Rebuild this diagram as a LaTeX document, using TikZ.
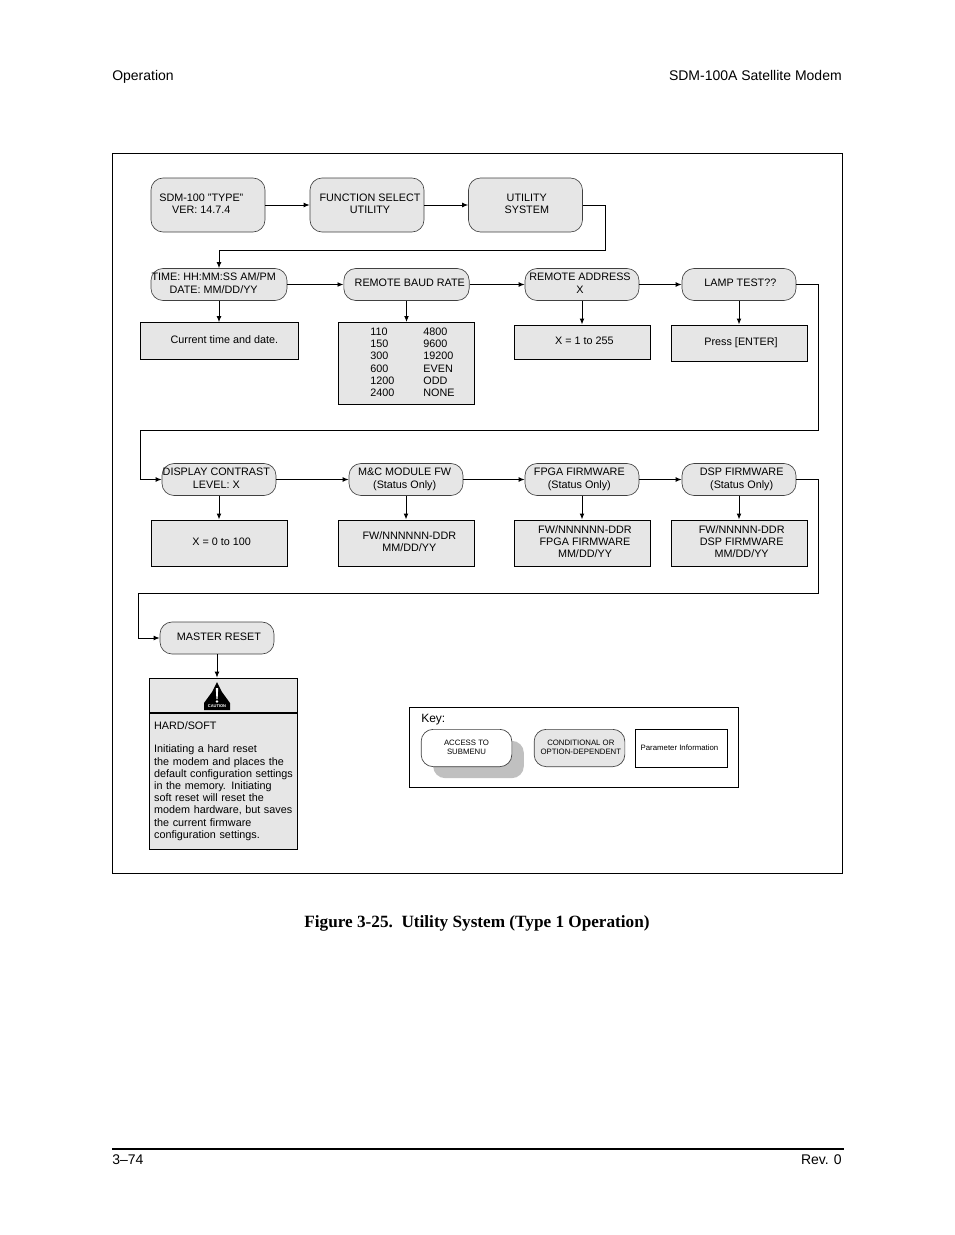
\documentclass[tikz,border=0pt]{standalone}
\usepackage{fontspec}
\setmainfont{Liberation Sans}
\newfontfamily\capfont{Liberation Serif}
\usetikzlibrary{arrows.meta}
\definecolor{boxgray}{HTML}{E6E6E6}
\definecolor{shadowgray}{HTML}{C0C0C0}
\newcommand{\lines}[2][0pt]{\makebox[0pt]{\hspace*{#1}\begin{tabular}{@{}c@{}}#2\end{tabular}}}
\tikzset{
  menubox/.style={draw=black!75, line width=0.5pt, fill=boxgray, rounded corners=9pt, inner sep=0pt,
    minimum width=85.5pt, minimum height=24pt, font=\fontsize{8.1}{9.15}\selectfont},
  infobox/.style={draw, line width=0.7pt, fill=boxgray, inner sep=0pt,
    minimum width=102pt, minimum height=34.5pt, font=\fontsize{8.1}{9.15}\selectfont},
  keytext/.style={font=\fontsize{5.85}{6.9}\selectfont},
  page/.style={font=\fontsize{10.5}{12}\selectfont},
  flow/.style={->, line width=0.7pt},
  >={Latex[length=4.5pt,width=3.6pt]}
}
\begin{document}
\begin{tikzpicture}[x=0.75pt,y=-0.75pt]
\useasboundingbox (0,0) rectangle (954,1235);

% Page header and footer
\node[page, anchor=base west, inner sep=0pt] (header) at (112,80) {Operation};
\node[page, anchor=base east, inner sep=0pt] (model) at (842,80) {SDM-100A Satellite Modem};
\draw[line width=1.4pt] (112,1149) -- (844,1149);
\node[page, anchor=base west, inner sep=0pt] (pageno) at (112,1164) {3--74};
\node[page, anchor=base east, inner sep=0pt] (rev) at (842,1164) {Rev. 0};
\node[font=\capfont\bfseries\fontsize{12.9}{15}\selectfont] (caption) at (477,923.5) {Figure 3-25.\ \ Utility System (Type 1 Operation)};

% Outer frame
\draw[line width=0.7pt] (112.5,153) rectangle (842.5,873);

% Top row
\node[menubox, minimum height=40.5pt] (sdm) at (208,205) {\lines[-10pt]{SDM-100 "TYPE"\\VER: 14.7.4}};
\node[menubox, minimum height=40.5pt] (func) at (367,205) {\lines[4.5pt]{FUNCTION SELECT\\UTILITY}};
\node[menubox, minimum height=40.5pt] (utility) at (525.5,205) {\lines[2pt]{UTILITY\\SYSTEM}};

% Second row
\node[menubox, minimum width=102pt] (time) at (219,284.5) {\lines[-8pt]{TIME: HH:MM:SS AM/PM\\DATE: MM/DD/YY}};
\node[menubox, minimum width=94pt] (baud) at (406.5,284.5) {\lines[5pt]{REMOTE BAUD RATE}};
\node[menubox] (addr) at (582,284.5) {\lines[-3pt]{REMOTE ADDRESS\\X}};
\node[menubox] (lamp) at (739,284.5) {\lines[2pt]{LAMP TEST??}};

\node[infobox, minimum width=118.5pt, minimum height=27.5pt] (timeinfo) at (219,341) {\lines[8pt]{Current time and date.}};
\node[infobox, minimum height=61.5pt] (baudinfo) at (406.5,363.5) {\begin{tabular}{@{\hspace{9pt}}p{39.75pt}@{}l@{}}
110&4800\\150&9600\\300&19200\\600&EVEN\\1200&ODD\\2400&NONE\end{tabular}};
\node[infobox, minimum height=25.5pt] (addrinfo) at (582,342) {\lines[3.5pt]{X = 1 to 255}};
\node[infobox, minimum height=27pt] (lampinfo) at (739,343) {\lines[3pt]{Press [ENTER]}};

% Third row
\node[menubox] (contrast) at (219,479.5) {\lines[-4pt]{DISPLAY CONTRAST\\LEVEL: X}};
\node[menubox] (mc) at (406,479.5) {\lines[-2pt]{M\&C MODULE FW\\(Status Only)}};
\node[menubox] (fpga) at (582,479.5) {\lines[-4pt]{FPGA FIRMWARE\\(Status Only)}};
\node[menubox] (dsp) at (739,479.5) {\lines[4pt]{DSP FIRMWARE\\(Status Only)}};

\node[infobox] (contrastinfo) at (219,543) {\lines[4pt]{X = 0 to 100}};
\node[infobox] (mcinfo) at (406,543) {\lines[5pt]{FW/NNNNNN-DDR\\MM/DD/YY}};
\node[infobox] (fpgainfo) at (582,543) {\lines[4.5pt]{FW/NNNNNN-DDR\\FPGA FIRMWARE\\MM/DD/YY}};
\node[infobox] (dspinfo) at (739,543) {\lines[4pt]{FW/NNNNN-DDR\\DSP FIRMWARE\\MM/DD/YY}};

% Master reset and caution
\node[menubox] (master) at (217,638) {\lines[3pt]{MASTER RESET}};
\node[infobox, minimum width=111.5pt, minimum height=26pt] (cauthead) at (223.5,695.5) {};
\node[infobox, minimum width=111.5pt, minimum height=102pt, align=left, text width=104pt] (cautbody) at (223.5,781) {HARD/SOFT\\[8.4pt]
Initiating a hard reset\\the modem and places the\\\mbox{default configuration settings}\\in the memory. Initiating\\soft reset will reset the\\modem hardware, but saves\\the current firmware\\configuration settings.};

% Caution sign
\fill (217,682) -- (222,692) -- (230,703) -- (230,710) -- (204,710) -- (204,703) -- (212,692) -- cycle;
\fill[white] (215.8,688) -- (218.2,688) -- (217.6,699) -- (216.4,699) -- cycle;
\fill[white] (217,701.5) circle (1.3);
\node[text=white, inner sep=0pt, font=\bfseries\fontsize{3}{3}\selectfont] (cautword) at (217,706.5) {CAUTION};

% Key
\node[draw, line width=0.7pt, minimum width=247pt, minimum height=60pt, inner sep=0pt] (key) at (574,747) {};
\node[anchor=base west, inner sep=0pt, font=\fontsize{9}{11}\selectfont] (keyword) at (421,722) {Key:};
\node[fill=shadowgray, rounded corners=9pt, minimum width=68pt, minimum height=28pt, inner sep=0pt] (keyshadow) at (478.5,759.5) {};
\node[menubox, keytext, fill=white, minimum width=68pt, minimum height=28pt] (keyaccess) at (466.5,748) {\lines{ACCESS TO\\SUBMENU}};
\node[menubox, keytext, minimum width=68pt, minimum height=28pt] (keycond) at (579.5,748) {\lines[2pt]{CONDITIONAL OR\\OPTION-DEPENDENT}};
\node[infobox, keytext, fill=white, minimum width=69pt, minimum height=28pt] (keyparam) at (681.5,748.5) {\lines[-3pt]{Parameter Information}};

% Turning points
\coordinate (turna) at (605,250);
\coordinate (turnb) at (818.5,430);
\coordinate (turnc) at (140,430);
\coordinate (turnd) at (818.5,593.5);
\coordinate (turne) at (138,593.5);

% Connectors
\draw[flow] (sdm) -- (func);
\draw[flow] (func) -- (utility);
\draw[flow] (utility.east) -| (turna) -| (time.north);
\draw[flow] (time) -- (baud);
\draw[flow] (baud) -- (addr);
\draw[flow] (addr) -- (lamp);
\draw[flow] (time) -- (timeinfo);
\draw[flow] (baud) -- (baudinfo);
\draw[flow] (addr) -- (addrinfo);
\draw[flow] (lamp) -- (lampinfo);
\draw[flow] (lamp.east) -| (turnb) -- (turnc) |- (contrast.west);
\draw[flow] (contrast) -- (mc);
\draw[flow] (mc) -- (fpga);
\draw[flow] (fpga) -- (dsp);
\draw[flow] (contrast) -- (contrastinfo);
\draw[flow] (mc) -- (mcinfo);
\draw[flow] (fpga) -- (fpgainfo);
\draw[flow] (dsp) -- (dspinfo);
\draw[flow] (dsp.east) -| (turnd) -- (turne) |- (master.west);
\draw[flow] (master.south) -- (master.south |- cauthead.north);
\end{tikzpicture}
\end{document}
